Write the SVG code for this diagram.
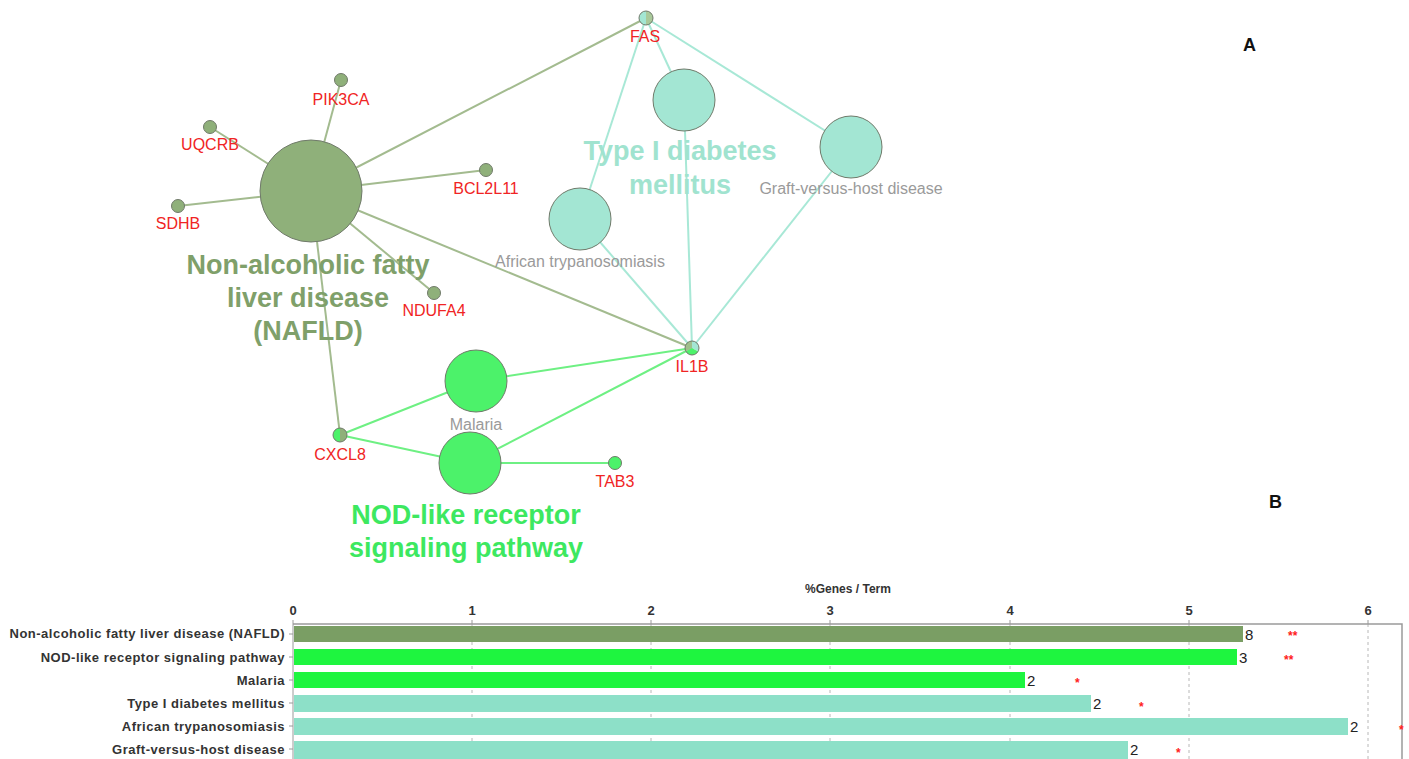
<svg xmlns="http://www.w3.org/2000/svg" width="1409" height="759" viewBox="0 0 1409 759">
<style>
.eo{stroke:#a3bb8f;stroke-width:2;fill:none}
.et{stroke:#a8e8d6;stroke-width:2;fill:none}
.eg{stroke:#6ef083;stroke-width:2;fill:none}
.gene{font-family:"Liberation Sans",Arial,sans-serif;font-size:16px;fill:#f02424;text-anchor:middle}
.term{font-family:"Liberation Sans",Arial,sans-serif;font-size:16px;fill:#9a9a9a;text-anchor:middle}
.big{font-family:"Liberation Sans",Arial,sans-serif;font-size:27px;font-weight:bold;text-anchor:middle}
.nstroke{stroke:#707a6a;stroke-width:1}
.olive{fill:#8fb07a}
.teal{fill:#a3e6d3}
.green{fill:#4cf26a}
.row{font-family:"Liberation Sans",Arial,sans-serif;font-size:13px;letter-spacing:0.5px;font-weight:bold;fill:#333;text-anchor:end}
.tick{font-family:"Liberation Sans",Arial,sans-serif;font-size:13px;font-weight:bold;fill:#333;text-anchor:middle}
.cnt{font-family:"Liberation Sans",Arial,sans-serif;font-size:15px;fill:#222}
.ast{font-family:"Liberation Sans",Arial,sans-serif;font-size:12px;font-weight:bold;fill:#ff2020}
.grid{stroke:#b8b8b8;stroke-width:1;stroke-dasharray:3,3}
.panel{font-family:"Liberation Sans",Arial,sans-serif;font-size:18px;font-weight:bold;fill:#111}
</style>
<rect width="1409" height="759" fill="#fff"/>
<g id="connectors">
<line class="eo" x1="311" y1="191" x2="341" y2="80"/>
<line class="eo" x1="311" y1="191" x2="210" y2="127"/>
<line class="eo" x1="311" y1="191" x2="178" y2="206"/>
<line class="eo" x1="311" y1="191" x2="486" y2="170"/>
<line class="eo" x1="311" y1="191" x2="434" y2="293"/>
<line class="eo" x1="311" y1="191" x2="646" y2="18"/>
<line class="eo" x1="311" y1="191" x2="692" y2="348"/>
<line class="eo" x1="311" y1="191" x2="340" y2="435"/>
<line class="et" x1="646" y1="18" x2="684" y2="100"/>
<line class="et" x1="646" y1="18" x2="851" y2="147"/>
<line class="et" x1="646" y1="18" x2="580" y2="219"/>
<line class="et" x1="692" y1="348" x2="684" y2="100"/>
<line class="et" x1="692" y1="348" x2="851" y2="147"/>
<line class="et" x1="692" y1="348" x2="580" y2="219"/>
<line class="eg" x1="692" y1="348" x2="476" y2="381"/>
<line class="eg" x1="692" y1="348" x2="470" y2="463"/>
<line class="eg" x1="340" y1="435" x2="476" y2="381"/>
<line class="eg" x1="340" y1="435" x2="470" y2="463"/>
<line class="eg" x1="470" y1="463" x2="615" y2="463"/>
</g>
<g id="node-nafld"><circle cx="311" cy="191" r="51" class="olive nstroke"/>
<text class="big" fill="#7fa06a" x="308" y="274">Non-alcoholic fatty</text>
<text class="big" fill="#7fa06a" x="308" y="307">liver disease</text>
<text class="big" fill="#7fa06a" x="308" y="340">(NAFLD)</text></g>
<g id="node-pik3ca"><circle cx="341" cy="80" r="6.5" class="olive nstroke"/><text class="gene" x="341" y="105">PIK3CA</text></g>
<g id="node-uqcrb"><circle cx="210" cy="127" r="6.5" class="olive nstroke"/><text class="gene" x="210" y="150">UQCRB</text></g>
<g id="node-sdhb"><circle cx="178" cy="206" r="6.5" class="olive nstroke"/><text class="gene" x="178" y="229">SDHB</text></g>
<g id="node-bcl2l11"><circle cx="486" cy="170" r="6.5" class="olive nstroke"/><text class="gene" x="486" y="194">BCL2L11</text></g>
<g id="node-ndufa4"><circle cx="434" cy="293" r="6.5" class="olive nstroke"/><text class="gene" x="434" y="316">NDUFA4</text></g>
<g id="node-fas">
<path d="M646,11 A7,7 0 0 0 646,25 Z" class="teal"/>
<path d="M646,11 A7,7 0 0 1 646,25 Z" fill="#a9c99a"/>
<circle cx="646" cy="18" r="7" fill="none" class="nstroke"/>
<text class="gene" x="645" y="42">FAS</text></g>
<g id="node-il1b">
<path d="M692,348 L692,341 A7,7 0 0 1 698,351.5 Z" class="teal"/>
<path d="M692,348 L698,351.5 A7,7 0 0 1 686,351.5 Z" class="green"/>
<path d="M692,348 L686,351.5 A7,7 0 0 1 692,341 Z" fill="#9fbf8c"/>
<circle cx="692" cy="348" r="7" fill="none" class="nstroke"/>
<text class="gene" x="692" y="372">IL1B</text></g>
<g id="node-cxcl8">
<path d="M340,428 A7,7 0 0 0 340,442 Z" class="green"/>
<path d="M340,428 A7,7 0 0 1 340,442 Z" fill="#8fb07a"/>
<circle cx="340" cy="435" r="7" fill="none" class="nstroke"/>
<text class="gene" x="340" y="460">CXCL8</text></g>
<g id="node-tab3"><circle cx="615" cy="463" r="6.5" class="green nstroke"/><text class="gene" x="615" y="487">TAB3</text></g>
<g id="node-type1"><circle cx="684" cy="100" r="31" class="teal nstroke"/>
<text class="big" fill="#a0e3cf" x="680" y="160">Type I diabetes</text>
<text class="big" fill="#a0e3cf" x="680" y="194">mellitus</text></g>
<g id="node-graft"><circle cx="851" cy="147" r="31" class="teal nstroke"/><text class="term" x="851" y="194">Graft-versus-host disease</text></g>
<g id="node-african"><circle cx="580" cy="219" r="31" class="teal nstroke"/><text class="term" x="580" y="267">African trypanosomiasis</text></g>
<g id="node-malaria"><circle cx="476" cy="381" r="31" class="green nstroke"/><text class="term" x="476" y="430">Malaria</text></g>
<g id="node-nod"><circle cx="470" cy="463" r="31" class="green nstroke"/>
<text class="big" fill="#3de860" x="466" y="524">NOD-like receptor</text>
<text class="big" fill="#3de860" x="466" y="557">signaling pathway</text></g>
<text class="panel" x="1243" y="51">A</text>
<text class="panel" x="1269" y="508">B</text>
<g id="chart">
<text x="848" y="593" font-family="Liberation Sans,Arial,sans-serif" font-size="12" font-weight="bold" fill="#333" text-anchor="middle">%Genes / Term</text>
<g class="grid">
<line x1="472" y1="624" x2="472" y2="759"/><line x1="651" y1="624" x2="651" y2="759"/><line x1="830" y1="624" x2="830" y2="759"/><line x1="1010" y1="624" x2="1010" y2="759"/><line x1="1189" y1="624" x2="1189" y2="759"/><line x1="1368" y1="624" x2="1368" y2="759"/>
</g>
<path d="M293,624 H1402 V759" fill="none" stroke="#9a9a9a" stroke-width="1.5"/>
<line x1="293" y1="624" x2="293" y2="759" stroke="#9a9a9a" stroke-width="1"/>
<g stroke="#9a9a9a" stroke-width="1">
<line x1="293" y1="620" x2="293" y2="624"/><line x1="472" y1="620" x2="472" y2="624"/><line x1="651" y1="620" x2="651" y2="624"/><line x1="830" y1="620" x2="830" y2="624"/><line x1="1010" y1="620" x2="1010" y2="624"/><line x1="1189" y1="620" x2="1189" y2="624"/><line x1="1368" y1="620" x2="1368" y2="624"/>
<line x1="289" y1="634" x2="293" y2="634"/><line x1="289" y1="657" x2="293" y2="657"/><line x1="289" y1="680" x2="293" y2="680"/><line x1="289" y1="703" x2="293" y2="703"/><line x1="289" y1="726" x2="293" y2="726"/><line x1="289" y1="749" x2="293" y2="749"/>
</g>
<text class="tick" x="293" y="615">0</text><text class="tick" x="472" y="615">1</text><text class="tick" x="651" y="615">2</text><text class="tick" x="830" y="615">3</text><text class="tick" x="1010" y="615">4</text><text class="tick" x="1189" y="615">5</text><text class="tick" x="1368" y="615">6</text>
<rect x="294" y="626" width="949" height="16" fill="#7a9e64"/>
<rect x="294" y="649" width="943" height="16" fill="#1ef53f"/>
<rect x="294" y="672" width="731" height="16" fill="#1ef53f"/>
<rect x="294" y="695" width="797" height="17" fill="#8de0c8"/>
<rect x="294" y="718" width="1054" height="17" fill="#8de0c8"/>
<rect x="294" y="741" width="834" height="18" fill="#8de0c8"/>
<text class="row" x="285" y="638">Non-alcoholic fatty liver disease (NAFLD)</text>
<text class="row" x="285" y="662">NOD-like receptor signaling pathway</text>
<text class="row" x="285" y="685">Malaria</text>
<text class="row" x="285" y="708">Type I diabetes mellitus</text>
<text class="row" x="285" y="731">African trypanosomiasis</text>
<text class="row" x="285" y="754">Graft-versus-host disease</text>
<text class="cnt" x="1245" y="640">8</text>
<text class="cnt" x="1239" y="663">3</text>
<text class="cnt" x="1027" y="686">2</text>
<text class="cnt" x="1093" y="709">2</text>
<text class="cnt" x="1350" y="732">2</text>
<text class="cnt" x="1130" y="755">2</text>
<text class="ast" x="1288" y="640">**</text>
<text class="ast" x="1284" y="664">**</text>
<text class="ast" x="1075" y="687">*</text>
<text class="ast" x="1139" y="711">*</text>
<text class="ast" x="1399" y="734">*</text>
<text class="ast" x="1176" y="757">*</text>
</g>
</svg>
